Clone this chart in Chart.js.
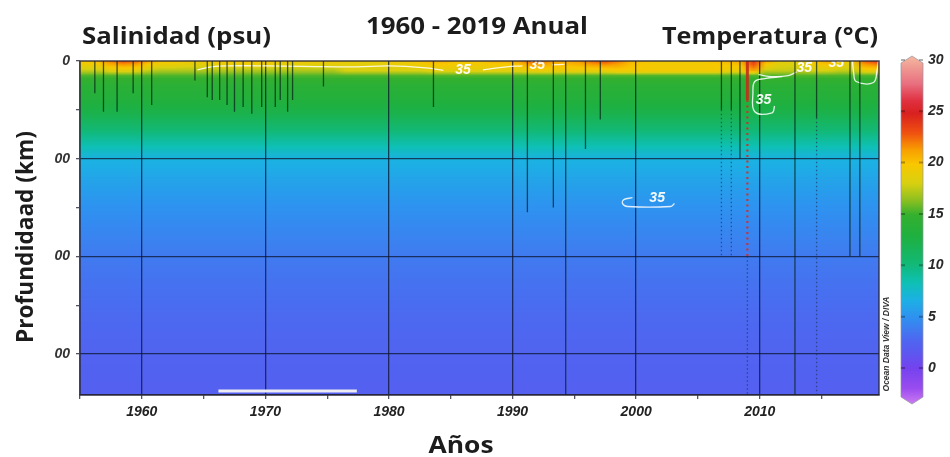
<!DOCTYPE html>
<html>
<head>
<meta charset="utf-8">
<script src="https://cdn.jsdelivr.net/npm/chart.js@4.4.1/dist/chart.umd.min.js"></script>
<style>
  html, body { margin: 0; padding: 0; background: #ffffff; }
  #wrap { width: 950px; height: 457px; position: relative; }
</style>
</head>
<body>
<div id="wrap"><canvas id="c" width="950" height="457"></canvas></div>
<script>
// ---- Section data: annual temperature (°C) by year and depth (km) ----
const years = [1955,1956,1957,1958,1959,1960,1961,1962,1963,1964,1965,1966,1967,1968,1969,
  1970,1971,1972,1973,1974,1975,1976,1977,1978,1979,1980,1981,1982,1983,1984,1985,1986,1987,
  1988,1989,1990,1991,1992,1993,1994,1995,1996,1997,1998,1999,2000,2001,2002,2003,2004,2005,
  2006,2007,2008,2009,2010,2011,2012,2013,2014,2015,2016,2017,2018,2019];

// temperature at the surface for each year
const surfaceTemp = [20,20.5,22,23,22.5,21,20,20,19.5,19.5,19.5,20,20,20,20,
  20,19.5,19.5,19.5,19.5,19.5,19,19,19,19,19.5,19.5,20,20.5,20.5,20,20,20,
  20.5,20.5,21,22.5,22,21,21,21.5,22.5,23,22,20.5,20,19.5,19.5,19.5,19.5,19.5,
  20,20.5,21,24,21,19,18.5,19,20,21,19.5,19,22.5,23.5];

// temperature at 0.1 km for each year
const temp100m = [17.5,17.5,18.5,18.5,18.5,17.5,17,17,17,17,17,17,17,17,17,
  17,17,17,17,17,17,18,18,18,18,18,18,18,18.5,18.5,18.5,18.5,18.5,
  18.5,18.5,18.5,19,19,19,19,19,19,19,19.5,19.5,19.5,19.5,19.5,19.5,19.5,19.5,
  19.5,19,19,21,17.5,17.5,17.5,17.5,18,18,17.5,17.5,19,19];

// mean profile below the surface layer
const profileDepths = [0.15, 0.25, 0.4, 0.55, 0.7, 0.85, 1.0, 1.2, 1.5, 2.0, 2.5, 3.0, 3.42];
const profileTemps  = [15.3, 14.0, 13.2, 12.0, 10.3, 8.6, 6.8, 6.0, 5.0, 3.7, 3.0, 2.5, 2.1];

// station casts: [year, deepest sample (km)]
const solidCasts = [[1956.2,0.33],[1956.9,0.52],[1958.0,0.52],[1959.3,0.33],[1960.8,0.45],
  [1964.3,0.2],[1965.3,0.37],[1965.7,0.4],[1966.3,0.4],[1966.9,0.45],[1967.5,0.52],
  [1968.2,0.47],[1968.9,0.54],[1969.7,0.47],[1970.8,0.47],[1971.2,0.4],[1971.8,0.52],
  [1972.2,0.4],[1974.7,0.26],[1983.6,0.47],[1991.2,1.55],[1993.3,1.5],[1994.3,3.42],
  [1995.9,0.9],[1997.1,0.6],[2006.9,0.5],[2007.7,0.5],[2008.4,1.0],[2012.85,3.42],
  [2014.6,0.58],[2017.3,2.0],[2018.1,2.0]];
// casts with sparse samples: [year, top (km), bottom (km)]
const dottedCasts = [[2006.9,0.5,2.0],[2007.7,0.5,2.0],[2009.0,2.0,3.42],[2014.6,0.58,3.42]];
// warm cast in 2009
const warmCastSolid = [[2009.0,0],[2009.0,0.4]];
const warmCastDotted = [[2009.0,0.4],[2009.0,2.0]];

// salinity 35 psu isolines: [year, depth (km)]
const sal35Surface = [[1964.5,0.09],[1965.6,0.06],[1967,0.05],[1970,0.05],[1973,0.055],
  [1977.4,0.06],[1980,0.05],[1983,0.07],[1984.4,0.095]];
const sal35Surface2 = [[1987.6,0.09],[1989.5,0.06],[1990.8,0.05]];
const sal35Surface3 = [[1993.2,0.04],[1994.2,0.035]];
const sal35Loop = [[2011.8,0.16],[2010.4,0.18],[2009.6,0.21],[2009.45,0.32],[2009.6,0.52],
  [2011.0,0.53],[2011.2,0.46]];
const sal35Top = [[2009.9,0.14],[2011,0.16],[2012.3,0.15],[2013.0,0.11]];
const sal35Right = [[2017.5,0.0],[2017.6,0.12],[2017.8,0.21],[2019.2,0.22],[2019.5,0.09],[2019.6,0.0]];
const sal35Deep = [[1999.7,1.40],[1999.0,1.42],[1998.9,1.46],[1999.3,1.49],[2002.8,1.49],[2003.1,1.46]];
const sal35Labels = [[1986.0,0.09],[1992.0,0.045],[2010.3,0.40],[2013.6,0.075],[2016.2,0.02],[2001.7,1.40]];
const bottomMark = [[1966.2,3.38],[1977.4,3.38]];

// axis ticks
const xTickLabels = ['1960','1970','1980','1990','2000','2010'];
const depthTickValues = [0, 1, 2, 3];
const depthTickLabels = ['0', '00', '00', '00'];
const colorbarTicks = [0, 5, 10, 15, 20, 25, 30];

// ---- colour scale (°C -> colour) ----
const cmapValues = [-3.4, -2, 0, 1.5, 2.7, 4, 5, 6.6, 8.3, 10.2, 12.8, 14.9, 16.4, 18, 19.8, 21.2, 22.9, 24.8, 26, 27.7, 30.4];
const cmapColors = ['#c878f0','#9a4cf0','#7442ee','#5c58f0','#4e66f0','#3c80f0','#2e92f0','#1cb0e4',
  '#0ec0b4','#12b874','#1eb040','#34b02e','#90c020','#d8d010','#f8c800','#f8a000','#f05010',
  '#d82020','#e03040','#e87080','#f4b8a0'];
const cmapRGB = cmapColors.map(h => [parseInt(h.slice(1,3),16), parseInt(h.slice(3,5),16), parseInt(h.slice(5,7),16)]);

function colorFor(v) {
  if (v <= cmapValues[0]) return cmapRGB[0];
  for (let k = 1; k < cmapValues.length; k++) {
    if (v <= cmapValues[k]) {
      const f = (v - cmapValues[k-1]) / (cmapValues[k] - cmapValues[k-1]);
      const a = cmapRGB[k-1], b = cmapRGB[k];
      return [a[0] + f*(b[0]-a[0]), a[1] + f*(b[1]-a[1]), a[2] + f*(b[2]-a[2])];
    }
  }
  return cmapRGB[cmapRGB.length-1];
}

function interp(xs, ys, v) {
  if (v <= xs[0]) return ys[0];
  for (let k = 1; k < xs.length; k++) {
    if (v <= xs[k]) {
      const f = (v - xs[k-1]) / (xs[k] - xs[k-1]);
      return ys[k-1] + f * (ys[k] - ys[k-1]);
    }
  }
  return ys[ys.length-1];
}

// ---- gridded field, drawn under the axes ----
const fieldPlugin = {
  id: 'field',
  beforeDraw(chart) {
    const {ctx, chartArea: a, scales: {x, y}} = chart;
    const n = years.length;
    const H = Math.round(a.bottom - a.top);
    const off = document.createElement('canvas');
    off.width = n; off.height = H;
    const octx = off.getContext('2d');
    const img = octx.createImageData(n, H);
    for (let i = 0; i < n; i++) {
      const depths = [0, 0.1].concat(profileDepths);
      const temps = [surfaceTemp[i], temp100m[i]].concat(profileTemps);
      for (let r = 0; r < H; r++) {
        const d = y.getValueForPixel(a.top + r + 0.5);
        const c = colorFor(interp(depths, temps, d));
        const k = (r * n + i) * 4;
        img.data[k] = c[0]; img.data[k+1] = c[1]; img.data[k+2] = c[2]; img.data[k+3] = 255;
      }
    }
    octx.putImageData(img, 0, 0);
    ctx.save();
    ctx.beginPath();
    ctx.rect(a.left, a.top, a.right - a.left, a.bottom - a.top);
    ctx.clip();
    ctx.imageSmoothingEnabled = true;
    ctx.imageSmoothingQuality = 'high';
    const x0 = x.getPixelForValue(years[0]);
    const x1 = x.getPixelForValue(years[n-1] + 1);
    ctx.drawImage(off, 0, 0, n, H, x0, a.top, x1 - x0, H);
    ctx.restore();
  }
};

// ---- frame, isoline labels, colour bar and titles ----
function fitText(ctx, text, x, y, width, align) {
  const w = ctx.measureText(text).width;
  const s = width / w;
  ctx.save();
  ctx.translate(x, y);
  ctx.scale(s, 1);
  ctx.textAlign = align;
  ctx.fillText(text, 0, 0);
  ctx.restore();
}

const overlayPlugin = {
  id: 'overlay',
  afterDatasetsDraw(chart) {
    const {ctx, chartArea: a, scales: {x, y}} = chart;
    ctx.save();
    // isoline labels
    ctx.beginPath();
    ctx.rect(a.left, a.top, a.right - a.left, a.bottom - a.top);
    ctx.clip();
    ctx.fillStyle = 'rgba(255,255,255,0.95)';
    ctx.font = 'italic bold 14px "Liberation Sans", Arial, sans-serif';
    ctx.textAlign = 'center';
    ctx.textBaseline = 'middle';
    sal35Labels.forEach(([yr, d]) => ctx.fillText('35', x.getPixelForValue(yr), y.getPixelForValue(d)));
    ctx.restore();

    // frame
    ctx.save();
    ctx.strokeStyle = 'rgba(35,35,50,0.85)';
    ctx.lineWidth = 1.5;
    ctx.strokeRect(a.left, a.top, a.right - a.left, a.bottom - a.top);
    ctx.restore();
  },
  afterDraw(chart) {
    const {ctx} = chart;
    ctx.save();

    // colour bar
    const cbX0 = 901, cbX1 = 923, cbXm = 912;
    const vToY = v => 368 - v * 10.27;
    const yTip = 56, yTop = 63, yBot = 397, yBotTip = 404;
    const g = ctx.createLinearGradient(0, yTip, 0, yBotTip);
    cmapValues.forEach((v, k) => {
      const p = Math.min(1, Math.max(0, (vToY(v) - yTip) / (yBotTip - yTip)));
      g.addColorStop(p, cmapColors[k]);
    });
    ctx.beginPath();
    ctx.moveTo(cbX0, yTop); ctx.lineTo(cbXm, yTip); ctx.lineTo(cbX1, yTop);
    ctx.lineTo(cbX1, yBot); ctx.lineTo(cbXm, yBotTip); ctx.lineTo(cbX0, yBot);
    ctx.closePath();
    ctx.fillStyle = g;
    ctx.fill();
    ctx.strokeStyle = 'rgba(150,150,160,0.7)';
    ctx.lineWidth = 1;
    ctx.stroke();
    ctx.strokeStyle = 'rgba(0,0,0,0.3)';
    ctx.lineWidth = 2;
    colorbarTicks.forEach(v => {
      const yy = vToY(v);
      ctx.beginPath();
      ctx.moveTo(cbX0, yy); ctx.lineTo(cbX0 + 4, yy);
      ctx.moveTo(cbX1 - 4, yy); ctx.lineTo(cbX1, yy);
      ctx.stroke();
    });
    ctx.fillStyle = '#2a2a2a';
    ctx.font = 'italic bold 14px "Liberation Sans", Arial, sans-serif';
    ctx.textAlign = 'left';
    ctx.textBaseline = 'middle';
    colorbarTicks.forEach(v => ctx.fillText(String(v), 928, vToY(v)));

    // software credit, rotated
    ctx.save();
    ctx.translate(887, 344);
    ctx.rotate(-Math.PI / 2);
    ctx.font = 'italic bold 8.5px "Liberation Sans", Arial, sans-serif';
    ctx.textAlign = 'center';
    ctx.textBaseline = 'middle';
    ctx.fillStyle = '#333';
    ctx.fillText('Ocean Data View / DIVA', 0, 0);
    ctx.restore();

    // titles
    ctx.fillStyle = '#1c1c1c';
    ctx.textBaseline = 'alphabetic';
    ctx.font = 'bold 23px "Open Sans", "Noto Sans", sans-serif';
    fitText(ctx, 'Salinidad (psu)', 82, 44, 189, 'left');
    fitText(ctx, '1960 - 2019 Anual', 477, 34, 222, 'center');
    fitText(ctx, 'Temperatura (°C)', 878, 43.5, 216, 'right');
    fitText(ctx, 'Años', 461, 453, 65, 'center');
    ctx.save();
    ctx.translate(33, 237);
    ctx.rotate(-Math.PI / 2);
    fitText(ctx, 'Profundidaad (km)', 0, 0, 212, 'center');
    ctx.restore();

    ctx.restore();
  }
};

// ---- datasets ----
const pts = arr => arr.map(([px, py]) => ({x: px, y: py}));
const datasets = [];
solidCasts.forEach(([yr, d]) => datasets.push({
  data: [{x: yr, y: 0}, {x: yr, y: d}], showLine: true, pointRadius: 0,
  borderColor: 'rgba(5,35,25,0.72)', borderWidth: 1.3
}));
dottedCasts.forEach(([yr, d0, d1]) => datasets.push({
  data: [{x: yr, y: d0}, {x: yr, y: d1}], showLine: true, pointRadius: 0,
  borderColor: 'rgba(25,45,85,0.6)', borderWidth: 1.3, borderDash: [1.5, 2.5]
}));
datasets.push({data: pts(warmCastSolid), showLine: true, pointRadius: 0,
  borderColor: 'rgba(195,45,25,0.9)', borderWidth: 3});
datasets.push({data: pts(warmCastDotted), showLine: true, pointRadius: 0,
  borderColor: 'rgba(210,45,40,0.9)', borderWidth: 2.2, borderDash: [2, 3.5]});
[sal35Surface, sal35Surface2, sal35Surface3, sal35Loop, sal35Top, sal35Right, sal35Deep].forEach(line => datasets.push({
  data: pts(line), showLine: true, pointRadius: 0, tension: 0.4,
  borderColor: 'rgba(255,255,255,0.85)', borderWidth: 1.3
}));
datasets.push({data: pts(bottomMark), showLine: true, pointRadius: 0,
  borderColor: '#ececf2', borderWidth: 3});

const gridDark = 'rgba(12,22,45,0.75)';
const tickFont = {family: '"Liberation Sans", Arial, sans-serif', size: 14, style: 'italic', weight: 'bold'};

new Chart(document.getElementById('c'), {
  type: 'scatter',
  data: {datasets},
  options: {
    responsive: false,
    animation: false,
    devicePixelRatio: 1,
    layout: {padding: {left: 0, right: 71, top: 61, bottom: 0}, autoPadding: false},
    plugins: {legend: {display: false}, tooltip: {enabled: false}, title: {display: false}},
    scales: {
      x: {
        type: 'linear', min: 1955, max: 2019.65,
        afterFit(s) { s.height = 62; },
        ticks: {
          stepSize: 5, includeBounds: false, autoSkip: false, maxRotation: 0, padding: 5,
          color: '#222', font: tickFont,
          callback: v => xTickLabels.includes(String(v)) ? String(v) : ''
        },
        grid: {
          color: c => (c.tick && xTickLabels.includes(String(c.tick.value))) ? gridDark : 'rgba(0,0,0,0)',
          tickColor: 'rgba(40,40,60,0.8)', tickLength: 4, lineWidth: 1.3
        },
        border: {display: true, color: 'rgba(40,40,60,0.85)', width: 1.2}
      },
      y: {
        type: 'linear', reverse: true, min: 0, max: 3.42,
        afterFit(s) { s.width = 80; },
        ticks: {
          stepSize: 0.5, includeBounds: false, autoSkip: false, padding: 6,
          color: '#333', font: tickFont,
          callback: v => {
            const i = depthTickValues.indexOf(v);
            return i >= 0 ? depthTickLabels[i] : '';
          }
        },
        grid: {
          color: c => (c.tick && c.tick.value > 0 && depthTickValues.includes(c.tick.value)) ? gridDark : 'rgba(0,0,0,0)',
          tickColor: 'rgba(40,40,60,0.8)', tickLength: 4, lineWidth: 1.3
        },
        border: {display: true, color: 'rgba(90,90,105,0.8)', width: 1.2}
      }
    }
  },
  plugins: [fieldPlugin, overlayPlugin]
});
</script>
</body>
</html>
